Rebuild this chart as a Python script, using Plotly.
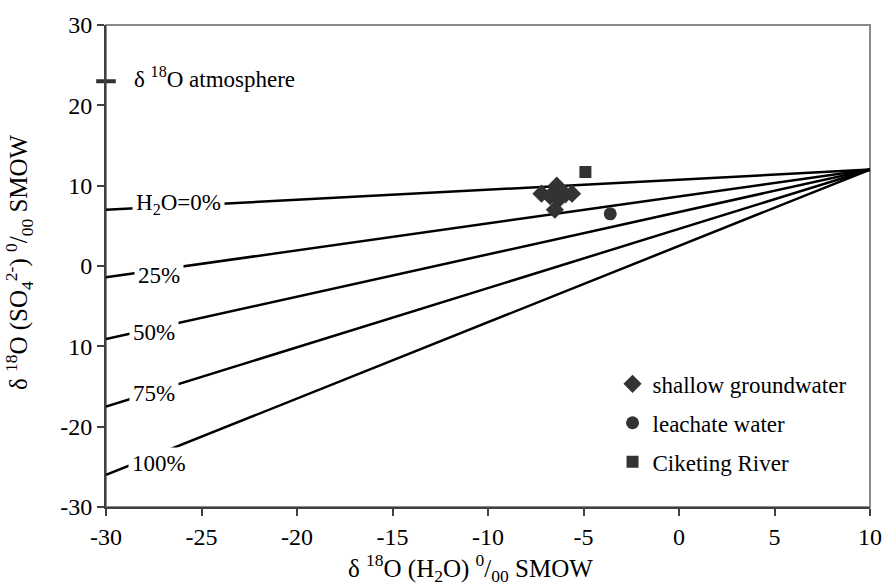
import plotly.graph_objects as go

# Mixing lines: fraction of oxygen from H2O, value at x=-30, all converge at (10, 12)
line_labels = ["H<sub>2</sub>O=0%", "25%", "50%", "75%", "100%"]
line_x = [-30, 10]
line_y_start = [7.0, -1.4, -9.1, -17.5, -26.0]
line_y_end = 12.0
label_x = [-26.2, -27.2, -27.5, -27.5, -27.2]
label_y = [7.7, -1.2, -8.3, -15.9, -24.6]

atm_x = -30
atm_y = 23
atm_label = "δ <sup>18</sup>O atmosphere"

gw_x = [-7.2, -6.4, -5.6, -6.3, -6.5, -6.75, -5.95]
gw_y = [9.0, 10.0, 9.0, 8.3, 7.0, 8.7, 8.9]
lw_x = [-3.6]
lw_y = [6.5]
cr_x = [-4.9]
cr_y = [11.7]

x_ticks = [-30, -25, -20, -15, -10, -5, 0, 5, 10]
x_tick_text = ["-30", "-25", "-20", "-15", "-10", "-5", "0", "5", "10"]
y_ticks = [30, 20, 10, 0, -10, -20, -30]
y_tick_text = ["30", "20", "10", "0", "10", "-20", "-30"]

x_title = "δ <sup>18</sup>O (H<sub>2</sub>O) <sup>0</sup>/<sub>00</sub> SMOW"
y_title = "δ <sup>18</sup>O (SO<sub>4</sub><sup>2-</sup>) <sup>0</sup>/<sub>00</sub> SMOW"

FONT = "Liberation Serif"
FS = 23
MC = "#333333"

fig = go.Figure()

for ys in line_y_start:
    fig.add_trace(go.Scatter(x=line_x, y=[ys, line_y_end], mode="lines",
                             line=dict(color="black", width=2.5),
                             showlegend=False, hoverinfo="skip", cliponaxis=False))

fig.add_trace(go.Scatter(x=[atm_x], y=[atm_y], mode="markers",
                         marker=dict(symbol="line-ew", size=14,
                                     line=dict(color="#333333", width=4)),
                         showlegend=False, cliponaxis=False, hoverinfo="skip"))

fig.add_trace(go.Scatter(x=gw_x, y=gw_y, mode="markers", name="shallow groundwater",
                         marker=dict(symbol="diamond", size=14, color=MC),
                         legendgroup="a"))
fig.add_trace(go.Scatter(x=lw_x, y=lw_y, mode="markers", name="leachate water",
                         marker=dict(symbol="circle", size=13, color=MC),
                         legendgroup="b"))
fig.add_trace(go.Scatter(x=cr_x, y=cr_y, mode="markers", name="Ciketing River",
                         marker=dict(symbol="square", size=12, color=MC),
                         legendgroup="c"))

for t, lx, ly in zip(line_labels, label_x, label_y):
    fig.add_annotation(x=lx, y=ly, text=t, showarrow=False, bgcolor="white",
                       borderpad=3, font=dict(family=FONT, size=FS, color="black"))

fig.add_annotation(x=-28.65, y=atm_y, text=atm_label, showarrow=False,
                   xanchor="left", yshift=4,
                   font=dict(family=FONT, size=FS, color="black"))

# axis titles
fig.add_annotation(xref="paper", yref="paper", x=0.477, y=-0.127, text=x_title,
                   showarrow=False, xanchor="center", yanchor="middle",
                   font=dict(family=FONT, size=25, color="black"))
fig.add_annotation(xref="paper", yref="paper", x=-0.114, y=0.508, text=y_title,
                   showarrow=False, textangle=-90, xanchor="center", yanchor="middle",
                   font=dict(family=FONT, size=25, color="black"))

fig.add_shape(type="rect", xref="paper", yref="paper", x0=0, x1=1, y0=0, y1=1,
              line=dict(color="#8a8a8a", width=2), layer="below")

fig.update_layout(
    width=894, height=587,
    margin=dict(l=106, r=15, t=23, b=80),
    paper_bgcolor="white", plot_bgcolor="white",
    font=dict(family=FONT, size=FS, color="black"),
    legend=dict(x=0.663, y=0.30, xanchor="left", yanchor="top",
                bgcolor="rgba(0,0,0,0)", tracegroupgap=6,
                font=dict(family=FONT, size=FS), itemwidth=30),
    xaxis=dict(range=[-30, 10], tickvals=x_ticks, ticktext=x_tick_text,
               showgrid=False, zeroline=False,
               showline=True, linecolor="#404040", linewidth=2,
               ticks="outside", ticklen=7, tickcolor="#404040", tickwidth=1.5,
               tickfont=dict(family=FONT, size=24)),
    yaxis=dict(range=[-30, 30], tickvals=y_ticks, ticktext=y_tick_text,
               showgrid=False, zeroline=False,
               showline=True, linecolor="#404040", linewidth=2,
               ticks="outside", ticklen=7, tickcolor="#404040", tickwidth=1.5,
               tickfont=dict(family=FONT, size=24)),
)

fig.write_html(
    "out.html",
    config={"displayModeBar": False},
    post_script=("document.documentElement.style.overflow='hidden';"
                 "document.body.style.margin='0';"
                 "document.body.style.overflow='hidden';"),
)
